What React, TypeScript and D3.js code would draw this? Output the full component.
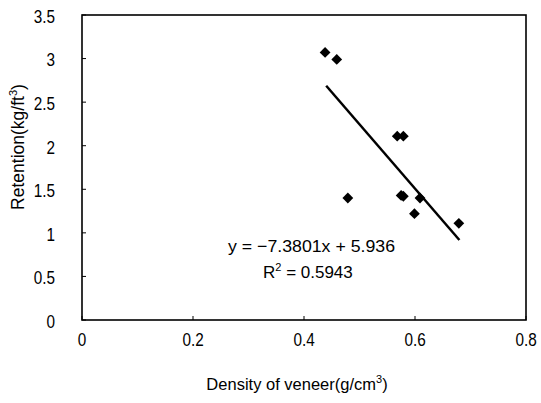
import React from "react";
import * as d3 from "d3";

const densities = [0.438, 0.459, 0.568, 0.579, 0.479, 0.575, 0.579, 0.609, 0.599, 0.679];
const retentions = [3.07, 2.99, 2.11, 2.11, 1.40, 1.43, 1.42, 1.40, 1.22, 1.11];
const xTicks = [0, 0.2, 0.4, 0.6, 0.8];
const yTicks = [0, 0.5, 1, 1.5, 2, 2.5, 3, 3.5];
const slope = -7.3801;
const intercept = 5.936;
const fitRange = [0.44, 0.68];

export default function App() {
  const W = 541, H = 403;
  const L = 82, R = 526, T = 15, B = 320;
  const x = d3.scaleLinear().domain([0, 0.8]).range([L, R]);
  const y = d3.scaleLinear().domain([0, 3.5]).range([B, T]);
  const sym = d3.symbol().type(d3.symbolSquare).size(58)();
  const font = "'Liberation Sans', Arial, sans-serif";
  const fit = d3.line<number>().x((d) => x(d)).y((d) => y(slope * d + intercept));
  return (
    <svg width={W} height={H} style={{ position: "absolute", left: 0, top: 0, background: "#fff" }}>
      <rect x={L} y={T} width={R - L} height={B - T} fill="none" stroke="#000" strokeWidth={1.6} />
      {yTicks.map((t) => (
        <g key={"y" + t}>
          <line x1={L} x2={L + 4} y1={y(t)} y2={y(t)} stroke="#000" />
          <g transform={`translate(${L - 27},${y(t) + 1.5}) scale(0.85,1)`}>
            <text x={0} y={0} dy="0.35em" textAnchor="end" fontFamily={font} fontSize={18}>
              {t}
            </text>
          </g>
        </g>
      ))}
      {xTicks.map((t) => (
        <g key={"x" + t}>
          <line x1={x(t)} x2={x(t)} y1={B} y2={B - 4} stroke="#000" />
          <g transform={`translate(${x(t)},${B + 20}) scale(0.85,1)`}>
            <text x={0} y={0} dy="0.35em" textAnchor="middle" fontFamily={font} fontSize={18}>
              {t}
            </text>
          </g>
        </g>
      ))}
      <path d={fit(fitRange) || ""} stroke="#000" strokeWidth={2.5} fill="none" />
      {densities.map((d, i) => (
        <path key={i} d={sym} transform={`translate(${x(d)},${y(retentions[i])}) rotate(45)`} fill="#000" />
      ))}
      <text x={228} y={246.5} dy="0.35em" fontFamily={font} fontSize={17} textLength={167} lengthAdjust="spacingAndGlyphs">
        y = −7.3801x + 5.936
      </text>
      <text x={263} y={272} dy="0.35em" fontFamily={font} fontSize={17}>
        R<tspan dy="-7" fontSize={11}>2</tspan><tspan dy="7"> = 0.5943</tspan>
      </text>
      <text x={297} y={384} dy="0.35em" textAnchor="middle" fontFamily={font} fontSize={16.5}>
        Density of veneer(g/cm<tspan dy="-7" fontSize={11}>3</tspan><tspan dy="7">)</tspan>
      </text>
      <text transform={`translate(18,147) rotate(-90)`} dy="0.35em" textAnchor="middle" fontFamily={font} fontSize={17.5}>
        Retention(kg/ft<tspan dy="-7" fontSize={11}>3</tspan><tspan dy="7">)</tspan>
      </text>
    </svg>
  );
}
